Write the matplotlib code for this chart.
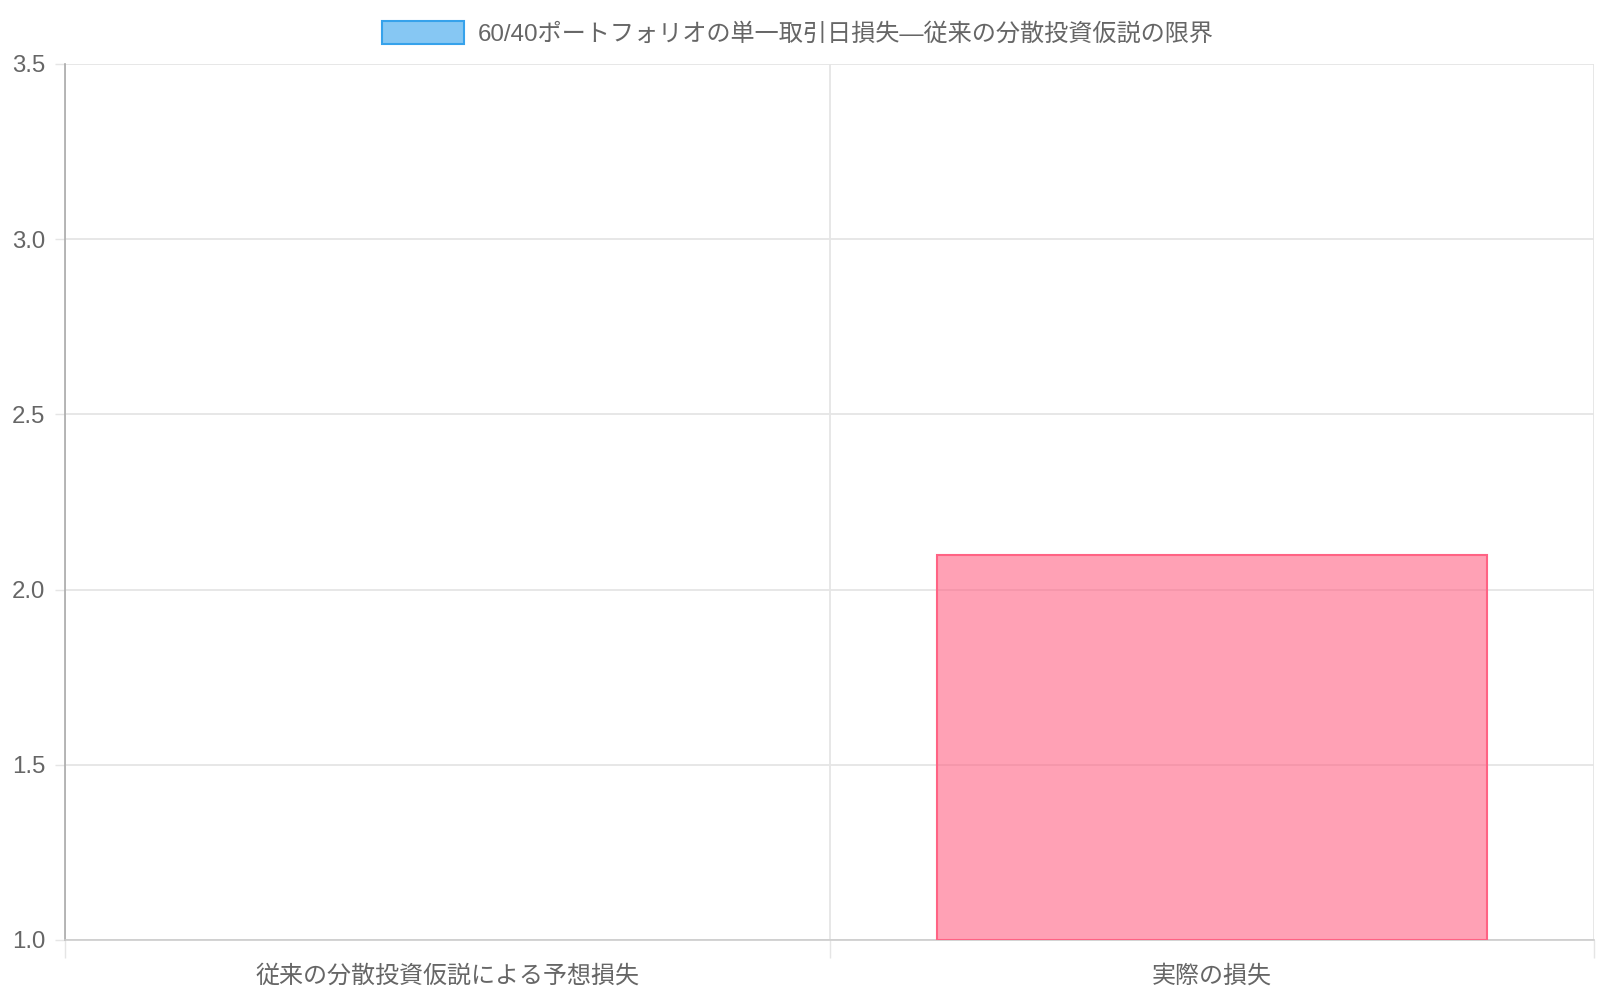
import matplotlib
matplotlib.use("Agg")
import matplotlib.pyplot as plt
from matplotlib.patches import Patch
from matplotlib.ticker import FixedLocator, NullFormatter

plt.rcParams['font.family'] = ['Liberation Sans', 'Noto Sans CJK JP', 'DejaVu Sans']

categories = ["従来の分散投資仮説による予想損失", "実際の損失"]
values = [1.0, 2.1]
series_label = "60/40ポートフォリオの単一取引日損失—従来の分散投資仮説の限界"
fill_colors = [(54/255, 162/255, 235/255, 0.6), (255/255, 99/255, 132/255, 0.6)]
edge_colors = [(54/255, 162/255, 235/255, 1.0), (255/255, 99/255, 132/255, 1.0)]
y_ticks = [1.0, 1.5, 2.0, 2.5, 3.0, 3.5]
y_min, y_max = 1.0, 3.5

text_color = "#666666"
grid_color = "#e5e5e5"

fig = plt.figure(figsize=(16, 10), dpi=100)
ax = fig.add_axes([65/1600, 60/1000, (1594-65)/1600, (940-64)/1000])

x = list(range(len(categories)))
lws = [1.5 if v > y_min else 0 for v in values]
ax.bar(x, [v - y_min for v in values], bottom=y_min, width=0.72,
       color=fill_colors, edgecolor=edge_colors, linewidth=lws, zorder=3)

ax.set_xlim(-0.5, len(categories) - 0.5)
ax.set_ylim(y_min, y_max)

# y axis
ax.set_yticks(y_ticks)
ax.set_yticklabels([f"{t:.1f}" for t in y_ticks])
ax.tick_params(axis='y', length=7.2, width=1, color=grid_color, pad=7, labelsize=17.3, labelcolor=text_color)
ax.yaxis.grid(True, color=grid_color, linewidth=1.3, zorder=0)

# x axis
ax.set_xticks(x)
ax.set_xticklabels(categories)
ax.tick_params(axis='x', which='major', length=0, pad=18, labelsize=17.3, labelcolor=text_color)
bounds = [i - 0.5 for i in range(len(categories) + 1)]
ax.xaxis.set_minor_locator(FixedLocator(bounds))
ax.xaxis.set_minor_formatter(NullFormatter())
ax.tick_params(axis='x', which='minor', length=13, width=1, color=grid_color)
ax.xaxis.grid(True, which='minor', color=grid_color, linewidth=1.3, zorder=0)

for s in ['top', 'right']:
    ax.spines[s].set_visible(False)
ax.spines['left'].set_color('#aaaaaa')
ax.spines['bottom'].set_color('#cccccc')
ax.spines['left'].set_linewidth(1.2)
ax.spines['bottom'].set_linewidth(1.2)
ax.set_axisbelow(True)

handle = Patch(facecolor=fill_colors[0], edgecolor=edge_colors[0], linewidth=1.5)
fig.legend([handle], [series_label], loc='center', bbox_to_anchor=(0.4985, 0.9665),
           frameon=False, fontsize=17.4, labelcolor=text_color,
           handlelength=3.4, handleheight=1.1, handletextpad=0.55)

fig.savefig("out.png", dpi=100, facecolor='white')
